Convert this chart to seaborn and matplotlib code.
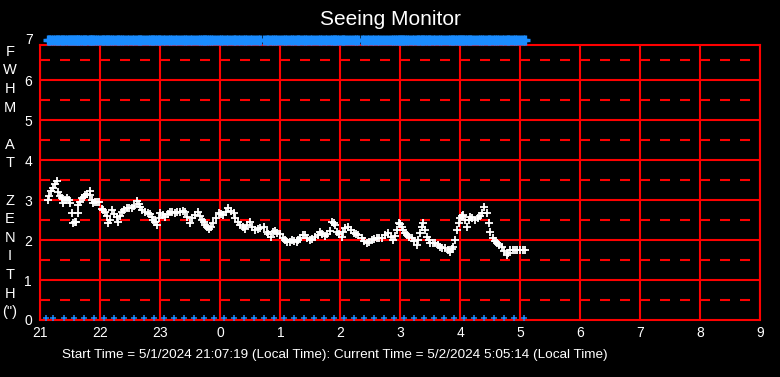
import matplotlib
matplotlib.use('Agg')
import matplotlib.pyplot as plt
import seaborn as sns

# FWHM samples, hours after 21:00 local time
hours = [0.12, 0.15, 0.18, 0.21, 0.24, 0.27, 0.30, 0.33, 0.36, 0.38, 0.41, 0.44, 0.47, 0.50, 0.52,
         0.55, 0.58, 0.60, 0.62, 0.63, 0.66, 0.69, 0.72, 0.75, 0.78, 0.82, 0.83, 0.86, 0.88, 0.91,
         0.94, 0.98, 1.02, 1.05, 1.08, 1.11, 1.13, 1.16, 1.19, 1.23, 1.27, 1.29, 1.32, 1.36, 1.40,
         1.44, 1.48, 1.52, 1.56, 1.61, 1.64, 1.66, 1.70, 1.75, 1.79, 1.83, 1.86, 1.88, 1.91, 1.94,
         1.97, 2.00, 2.04, 2.08, 2.12, 2.16, 2.20, 2.24, 2.28, 2.33, 2.37, 2.41, 2.45, 2.49, 2.53,
         2.58, 2.63, 2.66, 2.69, 2.72, 2.75, 2.78, 2.81, 2.84, 2.88, 2.92, 2.97, 3.01, 3.05, 3.09,
         3.13, 3.17, 3.22, 3.25, 3.29, 3.33, 3.37, 3.41, 3.45, 3.49, 3.53, 3.58, 3.62, 3.66, 3.72,
         3.77, 3.80, 3.84, 3.88, 3.91, 3.95, 3.99, 4.05, 4.08, 4.11, 4.16, 4.19, 4.23, 4.27, 4.30,
         4.33, 4.38, 4.41, 4.45, 4.49, 4.52, 4.58, 4.62, 4.66, 4.70, 4.74, 4.78, 4.82, 4.86, 4.89,
         4.91, 4.94, 4.98, 5.02, 5.05, 5.08, 5.13, 5.17, 5.22, 5.26, 5.30, 5.36, 5.40, 5.44, 5.48,
         5.52, 5.56, 5.61, 5.65, 5.69, 5.74, 5.80, 5.84, 5.88, 5.91, 5.94, 5.97, 6.00, 6.03, 6.05,
         6.08, 6.11, 6.15, 6.19, 6.23, 6.27, 6.30, 6.33, 6.36, 6.38, 6.41, 6.44, 6.47, 6.50, 6.54,
         6.58, 6.62, 6.66, 6.70, 6.75, 6.79, 6.83, 6.86, 6.88, 6.91, 6.94, 6.97, 7.00, 7.02, 7.04,
         7.08, 7.11, 7.14, 7.16, 7.20, 7.25, 7.30, 7.33, 7.36, 7.40, 7.44, 7.47, 7.50, 7.54, 7.58,
         7.61, 7.65, 7.69, 7.73, 7.77, 7.80, 7.83, 7.87, 7.91, 7.95, 8.00, 8.04, 8.08]
fwhm = [3.00, 3.10, 3.22, 3.30, 3.40, 3.47, 3.20, 3.10, 3.04, 2.92, 3.00, 3.05, 3.00, 2.92, 2.68,
        2.43, 2.45, 2.46, 2.68, 2.87, 2.95, 3.04, 3.08, 3.12, 3.15, 3.23, 3.12, 3.00, 2.92, 2.95,
        2.96, 2.96, 2.77, 2.74, 2.71, 2.60, 2.42, 2.50, 2.75, 2.65, 2.58, 2.46, 2.60, 2.71, 2.75,
        2.79, 2.80, 2.79, 2.85, 2.98, 2.90, 2.83, 2.76, 2.71, 2.68, 2.65, 2.58, 2.50, 2.45, 2.38,
        2.55, 2.67, 2.62, 2.58, 2.65, 2.71, 2.70, 2.67, 2.70, 2.71, 2.73, 2.71, 2.58, 2.42, 2.55,
        2.62, 2.71, 2.60, 2.50, 2.44, 2.38, 2.32, 2.27, 2.33, 2.42, 2.55, 2.67, 2.65, 2.62, 2.70,
        2.79, 2.72, 2.67, 2.55, 2.46, 2.38, 2.32, 2.27, 2.38, 2.46, 2.33, 2.25, 2.27, 2.29, 2.33,
        2.21, 2.14, 2.08, 2.20, 2.23, 2.18, 2.14, 2.04, 2.00, 1.96, 1.96, 2.00, 1.98, 1.96, 2.00,
        2.04, 2.12, 2.12, 2.06, 2.00, 2.02, 2.08, 2.13, 2.19, 2.14, 2.10, 2.15, 2.22, 2.46, 2.42,
        2.38, 2.21, 2.15, 2.08, 2.20, 2.29, 2.33, 2.25, 2.17, 2.14, 2.12, 2.04, 1.98, 1.92, 1.96,
        2.00, 2.02, 2.04, 2.06, 2.04, 2.12, 2.17, 2.08, 2.00, 2.10, 2.25, 2.42, 2.40, 2.32, 2.25,
        2.18, 2.12, 2.08, 2.04, 1.98, 1.88, 2.00, 2.17, 2.33, 2.42, 2.25, 2.08, 2.00, 1.92, 1.92,
        1.92, 1.88, 1.83, 1.80, 1.79, 1.75, 1.71, 1.78, 1.83, 2.00, 2.25, 2.42, 2.54, 2.60, 2.62,
        2.50, 2.33, 2.50, 2.58, 2.55, 2.50, 2.54, 2.60, 2.67, 2.83, 2.67, 2.42, 2.21, 2.04, 1.98,
        1.92, 1.88, 1.83, 1.72, 1.62, 1.68, 1.75, 1.75, 1.75, 1.76, 1.75, 1.74, 1.75]

# blue markers along the bottom, minutes after 21:00
marker_minutes = [6, 13, 24, 34, 44, 54, 64, 74, 84, 94, 104, 114, 124, 134, 144, 154, 164, 174,
                  184, 194, 204, 214, 224, 234, 244, 254, 264, 274, 284, 294, 304, 314, 324, 334,
                  344, 354, 364, 374, 384, 394, 404, 414, 424, 434, 444, 454, 464, 474, 484]

hour_labels = ['21', '22', '23', '0', '1', '2', '3', '4', '5', '6', '7', '8', '9']
fwhm_ticks = [0, 1, 2, 3, 4, 5, 6]

sns.set_theme(style='dark', rc={'axes.facecolor': 'black', 'figure.facecolor': 'black'})
plt.rcParams['font.family'] = ['Liberation Sans', 'DejaVu Sans']

fig = plt.figure(figsize=(7.8, 3.77), dpi=100)
ax = fig.add_axes([0.0517, 0.1512, 0.9231, 0.7294])

# red grid
for h in range(len(hour_labels)):
    ax.axvline(h, color='red', lw=1.5, zorder=1)
for y in fwhm_ticks[1:]:
    ax.axhline(y, color='red', lw=1.5, zorder=1)
for y in fwhm_ticks:
    ax.axhline(y + 0.5, color='red', lw=1.5, dashes=(4.8, 4.8), zorder=1)

sns.scatterplot(x=hours, y=fwhm, marker='+', color='white', s=36, linewidth=1.3, ax=ax, zorder=3)
sns.scatterplot(x=hours, y=[7] * len(hours), marker='+', color='#1a8cff', s=55, linewidth=2.4,
                ax=ax, zorder=3, clip_on=False)
sns.scatterplot(x=[m / 60 for m in marker_minutes], y=[0.06] * len(marker_minutes), marker='+',
                color='#1a8cff', s=22, linewidth=1.1, ax=ax, zorder=3)

ax.set_xlim(0, 12)
ax.set_ylim(0, 6.88)
ax.set_xticks(range(len(hour_labels)), hour_labels)
ax.set_yticks(fwhm_ticks)
ax.text(-0.12, 7, '7', color='white', fontsize=10, ha='right', va='center')
ax.tick_params(colors='white', length=0, labelsize=10)
ax.tick_params(axis='x', pad=4)
ax.tick_params(axis='y', pad=6)
ax.set_xlabel('')
ax.set_ylabel('')
ax.grid(False)
for s in ax.spines.values():
    s.set_visible(True)
    s.set_color('red')
    s.set_linewidth(1.5)

fig.text(0.5, 0.947, 'Seeing Monitor', ha='center', va='center', color='white', fontsize=15)
fig.text(62 / 780, 1 - 355 / 377,
         'Start Time = 5/1/2024 21:07:19 (Local Time): Current Time = 5/2/2024 5:05:14 (Local Time)',
         ha='left', va='center', color='white', fontsize=9.7)
fig.text(10 / 780, 1 - 182 / 377, 'F\nW\nH\nM\n\nA\nT\n\nZ\nE\nN\nI\nT\nH\n(")',
         ha='center', va='center', color='white', fontsize=10.5, linespacing=1.42)

fig.savefig('out.png', dpi=100, facecolor='black')
